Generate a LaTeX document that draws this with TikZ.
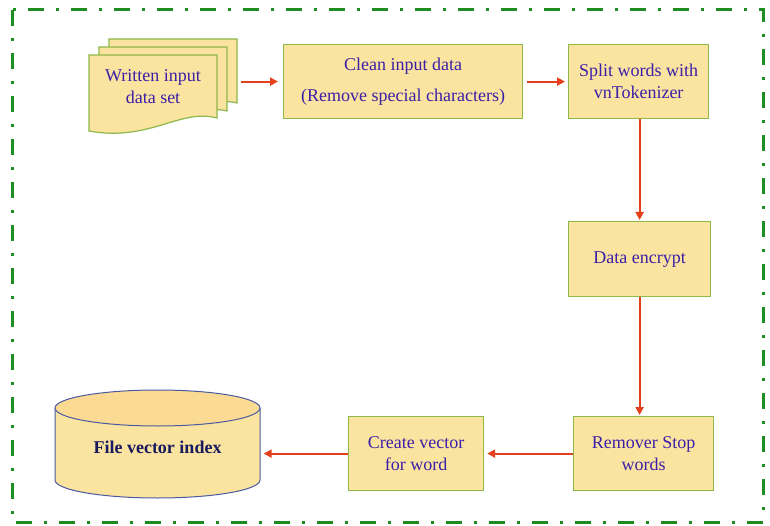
\documentclass[tikz,border=0pt]{standalone}
\usepackage{fontspec}
\setmainfont{Liberation Serif}
\usetikzlibrary{arrows.meta}
\definecolor{boxfill}{HTML}{FBE3A0}
\definecolor{boxline}{HTML}{8DB84A}
\definecolor{txt}{HTML}{3B1FA8}
\definecolor{arr}{HTML}{E4401C}
\definecolor{frame}{HTML}{1E8C1E}
\definecolor{cylline}{HTML}{4A5AA0}
\definecolor{dbtxt}{HTML}{1A1A5E}
\begin{document}
\begin{tikzpicture}[x=1pt,y=-1pt,
  procbox/.style={draw=boxline, fill=boxfill, line width=1.2pt, text=txt, align=center,
    font=\fontsize{18}{22}\selectfont, inner sep=0pt, anchor=north west},
  page/.style={draw=boxline, fill=boxfill, line width=1.2pt},
  flow/.style={draw=arr, line width=2pt, -{Triangle[length=8pt,width=8pt]}}]
\useasboundingbox (0,0) rectangle (770,526);
% outer frame
\draw[frame, line width=3pt, dash pattern=on 16pt off 12pt on 3pt off 12pt] (12,10) rectangle (763,522);
% document stack
\draw[page] (109,39) -- (237,39) -- (237,103) .. controls (205,95) and (180,120) .. (109,112) -- cycle;
\draw[page] (99,47) -- (227,47) -- (227,111) .. controls (195,103) and (170,128) .. (99,120) -- cycle;
\draw[page] (89,55) -- (217,55) -- (217,118) .. controls (180,108) and (150,142) .. (89,131) -- cycle;
\node[text=txt, align=center, font=\fontsize{18}{22}\selectfont] (doctext) at (153,87) {Written input\\data set};
\node[minimum width=128pt, minimum height=64pt, inner sep=0pt, anchor=north west] (doc) at (109,39) {};
% boxes
\node[procbox, minimum width=239pt, minimum height=74pt] (clean) at (283,44) {Clean input data\\[9pt](Remove special characters)};
\node[procbox, minimum width=140pt, minimum height=74pt] (split) at (568,44) {Split words with\\vnTokenizer};
\node[procbox, minimum width=142pt, minimum height=75pt] (enc) at (568,221) {Data encrypt};
\node[procbox, minimum width=140pt, minimum height=74pt] (stop) at (573,416) {Remover Stop\\words};
\node[procbox, minimum width=135pt, minimum height=74pt] (vec) at (348,416) {Create vector\\for word};
% cylinder
\fill[boxfill] (55,408) -- (55,480) arc[start angle=180, end angle=0, x radius=102.5, y radius=18] -- (260,408) -- cycle;
\draw[cylline, line width=1pt] (55,408) -- (55,480) arc[start angle=180, end angle=0, x radius=102.5, y radius=18] -- (260,408);
\draw[cylline, line width=1pt, fill=boxfill!92!orange] (157.5,408) ellipse[x radius=102.5, y radius=18];
\node[minimum width=206pt, minimum height=72pt, inner sep=0pt, text=dbtxt, font=\fontsize{18}{22}\selectfont\bfseries] (db) at (157.5,447) {File vector index};
% connectors
\draw[flow, shorten <=4pt, shorten >=5pt] (doc.east |- clean.west) -- (clean.west);
\draw[flow, shorten <=4pt, shorten >=3pt] (clean.east) -- (split.west);
\draw[flow, shorten >=1pt] (split.south -| enc.north) -- (enc.north);
\draw[flow, shorten >=1pt] (enc.south) -- (enc.south |- stop.north);
\draw[flow, shorten >=3pt] (stop.west) -- (vec.east);
\draw[flow, shorten >=3pt] (vec.west) -- (vec.west -| db.east);
\end{tikzpicture}
\end{document}
